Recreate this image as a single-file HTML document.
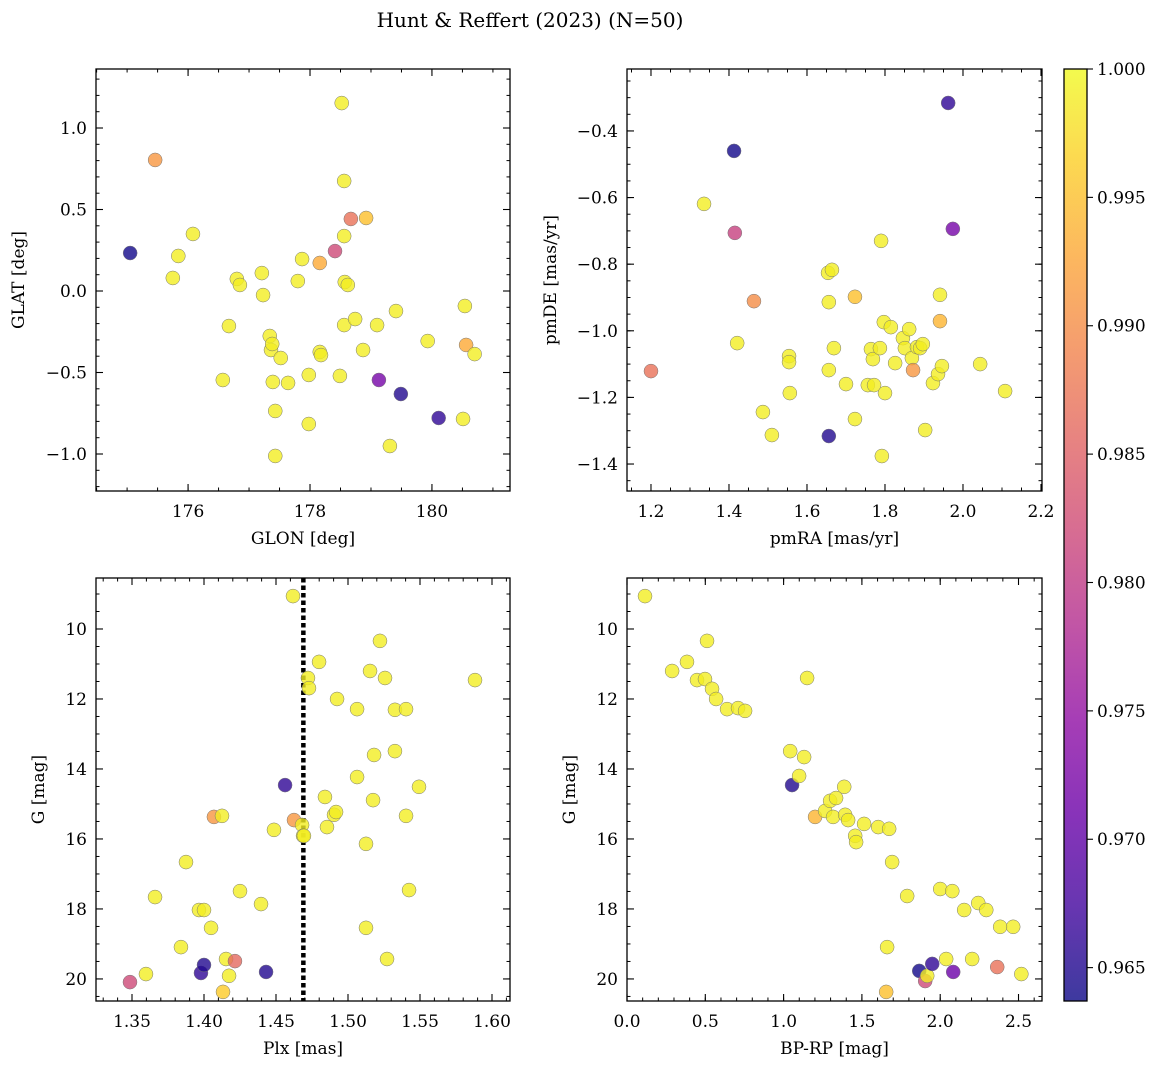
<!DOCTYPE html>
<html><head><meta charset="utf-8">
<style>
html,body{margin:0;padding:0;background:#fff;}
svg{display:block;font-family:"DejaVu Serif","Liberation Serif",serif;}
</style></head>
<body>
<svg id="chart" width="1161" height="1068" viewBox="0 0 1161 1068" xmlns="http://www.w3.org/2000/svg">
<defs>
<linearGradient id="cbgrad" x1="0" y1="1" x2="0" y2="0">
<stop offset="0" stop-color="#0d0887" stop-opacity="0.8"/>
<stop offset="0.1" stop-color="#41049d" stop-opacity="0.8"/>
<stop offset="0.2" stop-color="#6a00a8" stop-opacity="0.8"/>
<stop offset="0.3" stop-color="#8f0da4" stop-opacity="0.8"/>
<stop offset="0.4" stop-color="#b12a90" stop-opacity="0.8"/>
<stop offset="0.5" stop-color="#cc4778" stop-opacity="0.8"/>
<stop offset="0.6" stop-color="#e16462" stop-opacity="0.8"/>
<stop offset="0.7" stop-color="#f2844b" stop-opacity="0.8"/>
<stop offset="0.8" stop-color="#fca636" stop-opacity="0.8"/>
<stop offset="0.9" stop-color="#fcce25" stop-opacity="0.8"/>
<stop offset="1" stop-color="#f0f921" stop-opacity="0.8"/>
</linearGradient>
</defs>
<text x="530" y="27" font-size="20" text-anchor="middle">Hunt &amp; Reffert (2023) (N=50)</text>
</svg>
<script>
// ---- data ----
const glon = [175.05,175.46,175.75,175.84,176.08,176.57,176.67,176.80,176.85,177.21,177.23,177.34,177.36,177.38,177.39,177.43,177.43,177.52,177.64,177.80,177.87,177.98,177.98,178.16,178.16,178.18,178.41,178.49,178.52,178.56,178.56,178.56,178.57,178.62,178.67,178.74,178.87,178.92,179.10,179.13,179.31,179.41,179.49,179.93,180.11,180.51,180.54,180.56,180.70];
const glat = [0.233,0.804,0.08,0.215,0.35,-0.546,-0.215,0.074,0.037,0.11,-0.025,-0.276,-0.362,-0.325,-0.558,-0.736,-1.012,-0.411,-0.564,0.061,0.196,-0.515,-0.816,0.172,-0.374,-0.393,0.245,-0.521,1.153,0.675,0.337,-0.209,0.055,0.037,0.442,-0.172,-0.362,0.448,-0.209,-0.546,-0.951,-0.123,-0.632,-0.307,-0.779,-0.785,-0.092,-0.331,-0.387];
const probTL = [0.964,0.991,0.999,0.999,0.999,0.999,0.999,0.999,0.999,0.999,0.999,0.999,0.999,0.999,0.999,0.999,0.999,0.999,0.999,0.999,0.999,0.999,0.999,0.993,0.999,0.999,0.982,0.999,0.999,0.999,0.999,0.999,0.999,0.999,0.987,0.999,0.999,0.995,0.999,0.972,0.999,0.999,0.965,0.999,0.966,0.999,0.999,0.993,0.999];

const pmra = [1.2,1.336,1.413,1.415,1.421,1.464,1.487,1.510,1.554,1.554,1.556,1.654,1.656,1.656,1.656,1.664,1.669,1.700,1.723,1.723,1.756,1.764,1.769,1.772,1.790,1.787,1.792,1.797,1.800,1.815,1.826,1.846,1.851,1.862,1.869,1.872,1.882,1.890,1.897,1.903,1.923,1.936,1.941,1.941,1.946,1.962,1.974,2.044,2.108];
const pmde = [-1.121,-0.619,-0.460,-0.706,-1.037,-0.911,-1.244,-1.313,-1.076,-1.094,-1.187,-0.826,-0.914,-1.118,-1.316,-0.817,-1.052,-1.160,-0.898,-1.265,-1.163,-1.055,-1.085,-1.163,-0.730,-1.052,-1.376,-0.974,-1.187,-0.989,-1.097,-1.022,-1.052,-0.995,-1.082,-1.118,-1.049,-1.052,-1.040,-1.298,-1.157,-1.130,-0.892,-0.971,-1.106,-0.316,-0.694,-1.100,-1.181];
const probTR = [0.987,0.999,0.964,0.981,0.999,0.990,0.999,0.999,0.999,0.999,0.999,0.999,0.999,0.999,0.965,0.999,0.999,0.999,0.995,0.999,0.999,0.999,0.999,0.999,0.999,0.999,0.999,0.999,0.999,0.999,0.999,0.999,0.999,0.999,0.999,0.991,0.999,0.999,0.999,0.999,0.999,0.999,0.999,0.994,0.999,0.966,0.972,0.999,0.999];

const plx = [1.3486,1.3597,1.3660,1.3840,1.3875,1.3965,1.3979,1.4000,1.4000,1.4049,1.4069,1.4125,1.4132,1.4153,1.4174,1.4215,1.4250,1.4396,1.4431,1.4486,1.4563,1.4618,1.4625,1.4681,1.4688,1.4694,1.4722,1.4729,1.4799,1.4840,1.4854,1.4903,1.4924,1.4917,1.5063,1.5063,1.5125,1.5125,1.5153,1.5181,1.5174,1.5222,1.5257,1.5271,1.5326,1.5326,1.5403,1.5403,1.5424,1.5493,1.5882];
const gPlx = [20.09,19.86,17.66,19.09,16.66,18.03,19.83,19.60,18.03,18.54,15.37,15.34,20.37,19.43,19.91,19.49,17.49,17.86,19.80,15.74,14.46,9.06,15.46,15.60,15.91,15.91,11.40,11.69,10.94,14.80,15.66,15.31,12.00,15.23,12.29,14.23,18.54,16.14,11.20,13.60,14.89,10.34,11.40,19.43,12.31,13.49,12.29,15.34,17.46,14.51,11.46];
const probBL = [0.982,0.999,0.999,0.999,0.999,0.999,0.966,0.965,0.999,0.999,0.991,0.999,0.996,0.999,0.999,0.986,0.999,0.999,0.965,0.999,0.966,0.999,0.991,0.999,0.999,0.999,0.999,0.999,0.999,0.999,0.999,0.999,0.999,0.999,0.999,0.999,0.999,0.999,0.999,0.999,0.999,0.999,0.999,0.999,0.999,0.999,0.999,0.999,0.999,0.999,0.999];
const plxCut = 1.469;

const bprp = [0.115,0.288,0.383,0.447,0.498,0.511,0.543,0.569,0.639,0.709,0.754,1.042,1.054,1.099,1.131,1.150,1.201,1.265,1.297,1.316,1.335,1.387,1.393,1.412,1.457,1.463,1.514,1.604,1.674,1.693,1.661,1.655,1.789,1.866,1.904,1.917,1.949,2.000,2.038,2.077,2.083,2.153,2.204,2.243,2.294,2.364,2.383,2.466,2.518];
const gCmd = [9.06,11.20,10.94,11.46,11.43,10.34,11.71,12.00,12.29,12.26,12.34,13.49,14.46,14.20,13.66,11.40,15.37,15.20,14.91,15.37,14.83,14.51,15.31,15.46,15.91,16.09,15.57,15.66,15.71,16.66,19.09,20.37,17.63,19.77,20.06,19.91,19.57,17.43,19.43,17.49,19.80,18.03,19.43,17.83,18.03,19.66,18.51,18.51,19.86];
const probBR = [0.999,0.999,0.999,0.999,0.999,0.999,0.999,0.999,0.999,0.999,0.999,0.999,0.965,0.999,0.999,0.999,0.994,0.999,0.999,0.999,0.999,0.999,0.999,0.999,0.999,0.999,0.999,0.999,0.999,0.999,0.999,0.995,0.999,0.964,0.982,0.999,0.966,0.999,0.999,0.999,0.971,0.999,0.999,0.999,0.999,0.987,0.999,0.999,0.999];

const cbTicks = [0.965,0.970,0.975,0.980,0.985,0.990,0.995,1.000];
const vmin = 0.9637, vmax = 1.0;

// ---- rendering ----
const NS = "http://www.w3.org/2000/svg";
const svg = document.getElementById('chart');
const plasma = ["#0d0887","#41049d","#6a00a8","#8f0da4","#b12a90","#cc4778","#e16462","#f2844b","#fca636","#fcce25","#f0f921"];
function hex(h){return [parseInt(h.slice(1,3),16),parseInt(h.slice(3,5),16),parseInt(h.slice(5,7),16)];}
function cmap(v){
  let t=(v-vmin)/(vmax-vmin); t=Math.max(0,Math.min(1,t));
  const f=t*10, i=Math.min(9,Math.floor(f)), r=f-i;
  const a=hex(plasma[i]), b=hex(plasma[i+1]);
  return 'rgb('+a.map((c,k)=>Math.round(c+(b[k]-c)*r)).join(',')+')';
}
function el(tag, attrs, parent){
  const e=document.createElementNS(NS,tag);
  for(const k in attrs) e.setAttribute(k,attrs[k]);
  (parent||svg).appendChild(e); return e;
}
function fmt(v,d){const s=v.toFixed(d);return s.startsWith('-')?'\u2212'+s.slice(1):s;}

function panel(c){
  const g=el('g',{});
  
  
  const sx=v=>c.x0+(v-c.xl)/(c.xr-c.xl)*(c.x1-c.x0);
  const sy=v=>c.y0+(v-c.yt)/(c.yb-c.yt)*(c.y1-c.y0);
  // minor ticks
  const xlo=Math.min(c.xl,c.xr), xhi=Math.max(c.xl,c.xr);
  for(let v=Math.ceil(xlo/c.xminor)*c.xminor; v<=xhi; v+=c.xminor){
    const p=sx(v);
    el('line',{x1:p,x2:p,y1:c.y1,y2:c.y1-3.5,stroke:'#000','stroke-width':1},g);
    el('line',{x1:p,x2:p,y1:c.y0,y2:c.y0+3.5,stroke:'#000','stroke-width':1},g);
  }
  const ylo=Math.min(c.yt,c.yb), yhi=Math.max(c.yt,c.yb);
  for(let v=Math.ceil(ylo/c.yminor)*c.yminor; v<=yhi; v+=c.yminor){
    const p=sy(v);
    el('line',{x1:c.x0,x2:c.x0+3.5,y1:p,y2:p,stroke:'#000','stroke-width':1},g);
    el('line',{x1:c.x1,x2:c.x1-3.5,y1:p,y2:p,stroke:'#000','stroke-width':1},g);
  }
  c.xticks.forEach(v=>{
    const p=sx(v);
    el('line',{x1:p,x2:p,y1:c.y1,y2:c.y1-7,stroke:'#000','stroke-width':1.1},g);
    el('line',{x1:p,x2:p,y1:c.y0,y2:c.y0+7,stroke:'#000','stroke-width':1.1},g);
    const t=el('text',{x:p,y:c.y1+26,'font-size':17,'text-anchor':'middle'},g);
    
    
    t.textContent=fmt(v,c.xd);
  });
  c.yticks.forEach(v=>{
    const p=sy(v);
    el('line',{x1:c.x0,x2:c.x0+7,y1:p,y2:p,stroke:'#000','stroke-width':1.1},g);
    el('line',{x1:c.x1,x2:c.x1-7,y1:p,y2:p,stroke:'#000','stroke-width':1.1},g);
    const t=el('text',{x:c.x0-9,y:p+6,'font-size':17,'text-anchor':'end'},g);
    
    
    t.textContent=fmt(v,c.yd);
  });
  if(c.vline!==undefined){
    const p=sx(c.vline);
    const l=el('line',{x1:p,x2:p,y1:c.y0,y2:c.y1,stroke:'#000','stroke-width':4.5,'stroke-dasharray':'4.5,3'},g);
    
    
  }
  c.xs.forEach((xv,i)=>{
    const d=el('circle',{cx:sx(xv),cy:sy(c.ys[i]),r:7,fill:cmap(c.ps[i]),'fill-opacity':0.8,stroke:'#777','stroke-width':0.5},g);
    
    
  });
  const fr=el('rect',{x:c.x0,y:c.y0,width:c.x1-c.x0,height:c.y1-c.y0,fill:'none',stroke:'#000','stroke-width':1.3},g);
  
  
  const xl=el('text',{x:(c.x0+c.x1)/2,y:c.y1+53,'font-size':17,'text-anchor':'middle'},g);
  
  
  xl.textContent=c.xlabel;
  const yx=c.ylabx, yy=(c.y0+c.y1)/2;
  const yl=el('text',{x:yx,y:yy,'font-size':17,'text-anchor':'middle',transform:'rotate(-90 '+yx+' '+yy+')'},g);
  
  
  yl.textContent=c.ylabel;
}

panel({name:'glon-glat-panel',x0:96,x1:510,y0:69,y1:491,xl:174.49,xr:181.28,yt:1.362,yb:-1.227,
  xticks:[176,178,180],yticks:[1.0,0.5,0.0,-0.5,-1.0],xminor:0.5,yminor:0.1,xd:0,yd:1,
  xs:glon,ys:glat,ps:probTL,xlabel:'GLON [deg]',ylabel:'GLAT [deg]',ylabx:24});
panel({name:'proper-motion-panel',x0:627,x1:1042,y0:69,y1:491,xl:1.1385,xr:2.2026,yt:-0.214,yb:-1.481,
  xticks:[1.2,1.4,1.6,1.8,2.0,2.2],yticks:[-0.4,-0.6,-0.8,-1.0,-1.2,-1.4],xminor:0.05,yminor:0.05,xd:1,yd:1,
  xs:pmra,ys:pmde,ps:probTR,xlabel:'pmRA [mas/yr]',ylabel:'pmDE [mas/yr]',ylabx:556});
panel({name:'parallax-magnitude-panel',x0:96,x1:510,y0:578,y1:1001,xl:1.325,xr:1.6125,yt:8.543,yb:20.63,
  xticks:[1.35,1.40,1.45,1.50,1.55,1.60],yticks:[10,12,14,16,18,20],xminor:0.01,yminor:0.5,xd:2,yd:0,
  xs:plx,ys:gPlx,ps:probBL,xlabel:'Plx [mas]',ylabel:'G [mag]',ylabx:44,vline:plxCut});
panel({name:'cmd-panel',x0:627,x1:1042,y0:578,y1:1001,xl:0.0,xr:2.65,yt:8.543,yb:20.63,
  xticks:[0.0,0.5,1.0,1.5,2.0,2.5],yticks:[10,12,14,16,18,20],xminor:0.1,yminor:0.5,xd:1,yd:0,
  xs:bprp,ys:gCmd,ps:probBR,xlabel:'BP-RP [mag]',ylabel:'G [mag]',ylabx:575});

// colorbar
const cb=el('g',{});


const cx0=1064,cx1=1087,cy0=69,cy1=1001;
el('rect',{x:cx0,y:cy0,width:cx1-cx0,height:cy1-cy0,fill:'url(#cbgrad)',stroke:'#000','stroke-width':1.3},cb);
const cby=v=>cy1-(v-vmin)/(vmax-vmin)*(cy1-cy0);
cbTicks.forEach(v=>{
  const p=cby(v);
  el('line',{x1:cx1,x2:cx1+6,y1:p,y2:p,stroke:'#000','stroke-width':1.1},cb);
  const t=el('text',{x:cx1+10,y:p+6,'font-size':17},cb);
  
  
  t.textContent=v.toFixed(3);
});
</script>
</body></html>
